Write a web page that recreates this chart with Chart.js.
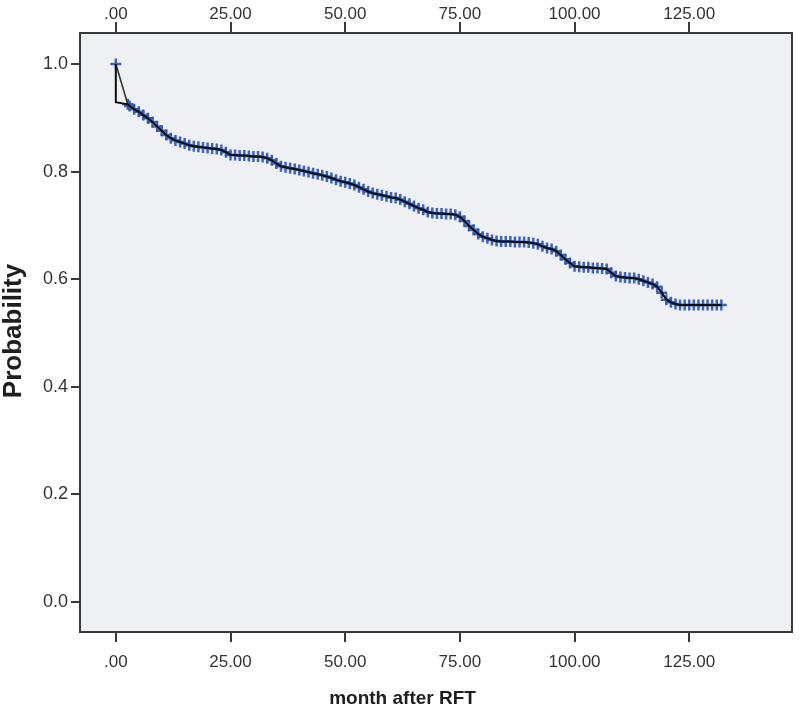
<!DOCTYPE html>
<html>
<head>
<meta charset="utf-8">
<script src="https://cdn.jsdelivr.net/npm/chart.js@4.4.1/dist/chart.umd.min.js"></script>
<style>
  html, body { margin: 0; padding: 0; background: #fff; }
  canvas { display: block; }
</style>
</head>
<body>
<canvas id="km" width="800" height="707"></canvas>
<script>
// Kaplan-Meier style curve
const months = [0, 0, 2.6,
    3, 4, 5, 6, 7, 8, 9, 10, 11, 12, 13, 14, 15, 16, 17, 18, 19, 20,
    21, 22, 23, 24, 25, 26, 27, 28, 29, 30, 31, 32, 33, 34, 35, 36, 37, 38, 39, 40,
    41, 42, 43, 44, 45, 46, 47, 48, 49, 50, 51, 52, 53, 54, 55, 56, 57, 58, 59, 60,
    61, 62, 63, 64, 65, 66, 67, 68, 69, 70, 71, 72, 73, 74, 75, 76, 77, 78, 79, 80,
    81, 82, 83, 84, 85, 86, 87, 88, 89, 90, 91, 92, 93, 94, 95, 96, 97, 98, 99, 100,
    101, 102, 103, 104, 105, 106, 107, 108, 109, 110, 111, 112, 113, 114, 115, 116, 117, 118, 119, 120,
    121, 122, 123, 124, 125, 126, 127, 128, 129, 130, 131, 132];
const survival = [1.000, 0.929, 0.925,
    0.922, 0.916, 0.911, 0.905, 0.899, 0.892, 0.884, 0.876, 0.868, 0.862, 0.858, 0.855, 0.852, 0.849, 0.847, 0.846, 0.845, 0.844,
    0.843, 0.842, 0.840, 0.836, 0.831, 0.831, 0.830, 0.830, 0.829, 0.828, 0.828, 0.827, 0.825, 0.821, 0.815, 0.810, 0.808, 0.806, 0.805, 0.803,
    0.801, 0.799, 0.797, 0.795, 0.793, 0.791, 0.788, 0.785, 0.782, 0.780, 0.778, 0.775, 0.771, 0.767, 0.763, 0.760, 0.758, 0.756, 0.754, 0.752,
    0.751, 0.748, 0.744, 0.740, 0.736, 0.732, 0.729, 0.725, 0.723, 0.722, 0.722, 0.721, 0.721, 0.720, 0.716, 0.708, 0.699, 0.692, 0.684, 0.679,
    0.676, 0.673, 0.671, 0.670, 0.670, 0.670, 0.669, 0.669, 0.669, 0.668, 0.667, 0.665, 0.661, 0.658, 0.656, 0.652, 0.645, 0.637, 0.630, 0.624,
    0.623, 0.622, 0.622, 0.621, 0.621, 0.620, 0.619, 0.612, 0.606, 0.604, 0.603, 0.602, 0.602, 0.600, 0.597, 0.594, 0.591, 0.586, 0.575, 0.562,
    0.557, 0.554, 0.552, 0.552, 0.552, 0.552, 0.552, 0.552, 0.552, 0.552, 0.552, 0.552];

const xTicks = [0, 25, 50, 75, 100, 125];
const yTicks = [0, 0.2, 0.4, 0.6, 0.8, 1.0];
const xTitle = 'month after RFT';
const yTitle = 'Probability';

const curve = months.map((m, i) => ({ x: m, y: survival[i] }));
const censored = curve.filter((p, i) => i !== 1); // the drop at 0 is an event, not a mark
const firstLink = [curve[0], curve[2]];

const xLabel = v => v === 0 ? '.00' : v.toFixed(2);

// plot background, frame and axis titles (SPSS look)
const framePlugin = {
    id: 'frame',
    beforeDraw(chart) {
        const { ctx, chartArea: a } = chart;
        ctx.save();
        ctx.fillStyle = '#eef0f4';
        ctx.fillRect(a.left, a.top, a.right - a.left, a.bottom - a.top);
        ctx.restore();
    },
    afterDraw(chart) {
        const { ctx, chartArea: a } = chart;
        const xs = chart.scales.x, ys = chart.scales.y;
        ctx.save();
        ctx.strokeStyle = '#3a3a3a';
        ctx.lineWidth = 2;
        ctx.strokeRect(a.left, a.top, a.right - a.left, a.bottom - a.top);

        ctx.fillStyle = '#1e1e1e';
        ctx.font = 'bold 19px "Liberation Sans", Arial, sans-serif';
        ctx.textAlign = 'center';
        ctx.textBaseline = 'middle';
        const cx = (xs.getPixelForValue(xTicks[0]) + xs.getPixelForValue(xTicks[xTicks.length - 1])) / 2;
        ctx.fillText(xTitle, cx, 699);

        const cy = (ys.getPixelForValue(0) + ys.getPixelForValue(1)) / 2 - 2;
        ctx.translate(14, cy);
        ctx.rotate(-Math.PI / 2);
        ctx.font = 'bold 26px "Liberation Sans", Arial, sans-serif';
        ctx.fillText(yTitle, 0, 0);
        ctx.restore();
    }
};

const tickFont = { family: '"Liberation Sans", Arial, sans-serif', size: 17 };

new Chart(document.getElementById('km').getContext('2d'), {
    type: 'scatter',
    data: {
        datasets: [
            {
                data: curve,
                showLine: true,
                borderColor: '#0d0d0d',
                borderWidth: 2,
                pointRadius: 0,
                tension: 0,
                order: 1
            },
            {
                data: firstLink,
                showLine: true,
                borderColor: '#2f3a30',
                borderWidth: 1.6,
                pointRadius: 0,
                order: 1
            },
            {
                data: censored,
                showLine: false,
                pointStyle: 'cross',
                pointRadius: 5.5,
                pointBorderWidth: 2.5,
                pointBorderColor: 'rgba(45, 85, 175, 0.9)',
                order: 2
            }
        ]
    },
    options: {
        responsive: false,
        animation: false,
        layout: { padding: { right: 5 } },
        plugins: {
            legend: { display: false },
            tooltip: { enabled: false }
        },
        scales: {
            x: {
                type: 'linear',
                position: 'bottom',
                min: -7.81,
                max: 147.4,
                afterBuildTicks: s => { s.ticks = xTicks.map(v => ({ value: v })); },
                afterFit: s => { s.height = 75; },
                border: { display: false },
                grid: { drawOnChartArea: false, drawTicks: true, tickLength: 10, color: '#3a3a3a', lineWidth: 2 },
                ticks: { callback: xLabel, font: tickFont, color: '#333', padding: 10, maxRotation: 0 }
            },
            x2: {
                type: 'linear',
                position: 'top',
                min: -7.81,
                max: 147.4,
                afterBuildTicks: s => { s.ticks = xTicks.map(v => ({ value: v })); },
                afterFit: s => { s.height = 33; },
                border: { display: false },
                grid: { drawOnChartArea: false, drawTicks: true, tickLength: 11, color: '#3a3a3a', lineWidth: 2 },
                ticks: { callback: xLabel, font: tickFont, color: '#333', padding: -3, maxRotation: 0 }
            },
            y: {
                type: 'linear',
                min: -0.0558,
                max: 1.0576,
                afterBuildTicks: s => { s.ticks = yTicks.map(v => ({ value: v })); },
                afterFit: s => { s.width = 80; },
                border: { display: false },
                grid: { drawOnChartArea: false, drawTicks: true, tickLength: 9, color: '#3a3a3a', lineWidth: 2 },
                ticks: { callback: v => v.toFixed(1), font: { family: tickFont.family, size: 18 }, color: '#333', padding: 3 }
            }
        }
    },
    plugins: [framePlugin]
});
</script>
</body>
</html>
